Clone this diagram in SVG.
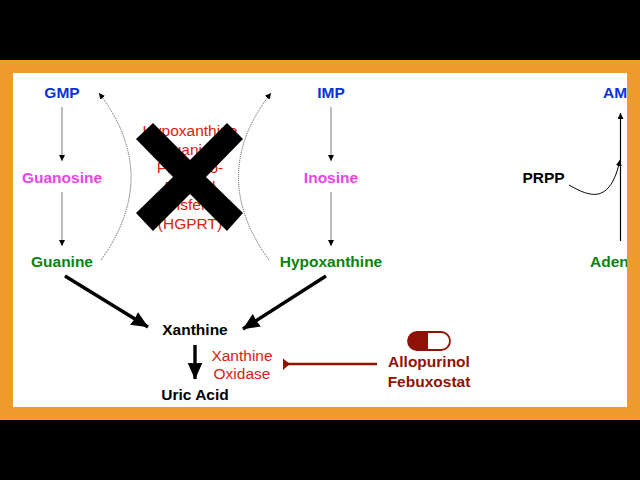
<svg xmlns="http://www.w3.org/2000/svg" width="640" height="480" viewBox="0 0 640 480">
<style>
text{font-family:"Liberation Sans",Arial,sans-serif;font-size:15.500px;text-anchor:middle}
.b{font-weight:bold}
.blue{fill:#0a32d8}.pink{fill:#e845e8}.green{fill:#0a820f}.blk{fill:#000}.dred{fill:#8f1207}
.red{fill:#de2010}
.thin{stroke:#999;stroke-width:1.300;fill:none;marker-end:url(#s)}
.dot{stroke:#222;stroke-width:.8;stroke-dasharray:1 1;fill:none;marker-end:url(#s)}
.thick{stroke:#000;stroke-width:3.400;fill:none;marker-end:url(#t)}
</style>
<defs>
<marker id="s" markerUnits="userSpaceOnUse" markerWidth="7" markerHeight="6" refX="6" refY="3" orient="auto"><path d="M0 0L6 3L0 6z" fill="#000"/></marker>
<marker id="t" markerUnits="userSpaceOnUse" markerWidth="18" markerHeight="16" refX="16.500" refY="8" orient="auto"><path d="M0 .5L17 8L0 15.500L1 8z" fill="#000"/></marker>
</defs>
<rect width="640" height="480" fill="#000"/>
<rect x="13" y="73" width="614" height="334" fill="#fff"/>
<g id="hgprt"><text class="red" x="190" y="136">Hypoxanthine</text><text class="red" x="190" y="155">Guanine</text><text class="red" x="190" y="173">Phospho-</text><text class="red" x="190" y="192">Ribosyl</text><text class="red" x="190" y="210">Transferase</text><text class="red" x="190" y="229">(HGPRT)</text></g>
<g id="connectors">
<path class="thin" d="M62 107V161"/><path class="thin" d="M62 192V246"/>
<path class="thin" d="M331 107V161"/><path class="thin" d="M331 192V246"/>
<path d="M620.500 241V113" stroke="#000" stroke-width="1.200" fill="none" marker-end="url(#s)"/>
<path d="M569 185C590 197 610 205 620 160" stroke="#000" stroke-width="1" fill="none" marker-end="url(#s)"/>
<path class="dot" d="M101 260Q162 175 99 93"/><path class="dot" d="M269 260Q207 175 271 93"/>
<path class="thick" d="M65 276L148 327"/><path class="thick" d="M326 276L243 329"/><path class="thick" d="M195 345V379"/>
<path d="M377 364H285" stroke="#8f1207" stroke-width="2.600" fill="none"/><path d="M283 358.500L290 364L283 370z" fill="#8f1207"/>
</g>
<g id="cross"><path d="M136 139L153 123L190 160L227 123L243 139L206 177L243 213L227 231L190 194L153 231L136 213L173 177z" fill="#000"/></g>
<g id="gmp"><text class="b blue" x="62" y="98">GMP</text></g>
<g id="guanosine"><text class="b pink" x="62" y="183">Guanosine</text></g>
<g id="guanine"><text class="b green" x="62" y="267">Guanine</text></g>
<g id="imp"><text class="b blue" x="331" y="98">IMP</text></g>
<g id="inosine"><text class="b pink" x="331" y="183">Inosine</text></g>
<g id="hypoxanthine"><text class="b green" x="331" y="267">Hypoxanthine</text></g>
<g id="amp"><text class="b blue" x="603" y="98" style="text-anchor:start">AMP</text></g>
<g id="adenine"><text class="b green" x="590" y="267" style="text-anchor:start">Adenine</text></g>
<g id="prpp"><text class="b blk" x="543.500" y="183">PRPP</text></g>
<g id="xanthine"><text class="b blk" x="195" y="335">Xanthine</text></g>
<g id="uric"><text class="b blk" x="195" y="400">Uric Acid</text></g>
<g id="xo"><text class="red" x="242" y="361">Xanthine</text><text class="red" x="242" y="379">Oxidase</text></g>
<g id="drug">
<rect x="408" y="332" width="42" height="18" rx="9" fill="#fff" stroke="#8f1207" stroke-width="1.800"/>
<path d="M428 332H417a9 9 0 0 0 0 18H428z" fill="#8f1207"/>
<text class="b dred" x="429" y="367">Allopurinol</text><text class="b dred" x="429" y="387">Febuxostat</text></g>
<path id="frame" fill="#ee9b2c" fill-rule="evenodd" d="M0 60H640V420H0zM13 73V407H627V73z"/>
</svg>
